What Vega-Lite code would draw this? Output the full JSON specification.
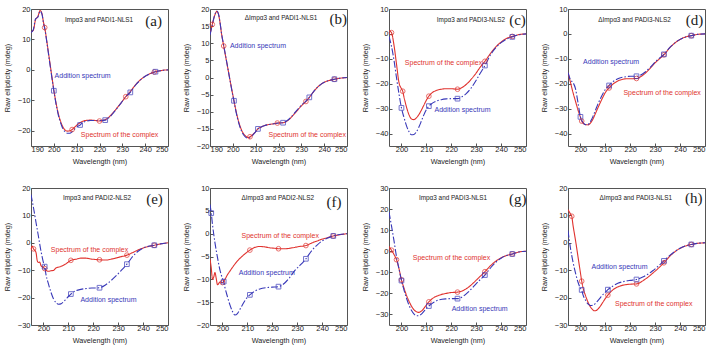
{
"$schema":"https://vega.github.io/schema/vega-lite/v6.json",
"background":"white",
"padding":{"left":2,"top":4,"right":0,"bottom":0},
"columns":4,
"spacing":{"row":42,"column":42},
"bounds":"flush",
"datasets":{
"curves":[
{"p":"a","s":"c","w":190,"v":12.5},{"p":"a","s":"c","w":191,"v":13},{"p":"a","s":"c","w":192,"v":16.5},{"p":"a","s":"c","w":193,"v":17.5},{"p":"a","s":"c","w":194,"v":19.5},{"p":"a","s":"c","w":194.8,"v":18.5},{"p":"a","s":"c","w":195.5,"v":15.5},{"p":"a","s":"c","w":196,"v":13.9},{"p":"a","s":"c","w":197,"v":9},{"p":"a","s":"c","w":198,"v":3.8},{"p":"a","s":"c","w":199,"v":-1.5},{"p":"a","s":"c","w":200,"v":-6.6},{"p":"a","s":"c","w":201,"v":-11},{"p":"a","s":"c","w":202,"v":-14.5},{"p":"a","s":"c","w":203,"v":-17},{"p":"a","s":"c","w":204,"v":-18.8},{"p":"a","s":"c","w":205,"v":-19.8},{"p":"a","s":"c","w":206,"v":-20.1},{"p":"a","s":"c","w":207,"v":-20},{"p":"a","s":"c","w":208,"v":-19.6},{"p":"a","s":"c","w":209,"v":-18.9},{"p":"a","s":"c","w":210,"v":-18.2},{"p":"a","s":"c","w":211,"v":-17.6},{"p":"a","s":"c","w":212,"v":-17.1},{"p":"a","s":"c","w":214,"v":-16.6},{"p":"a","s":"c","w":216,"v":-16.5},{"p":"a","s":"c","w":218,"v":-16.6},{"p":"a","s":"c","w":220,"v":-16.8},{"p":"a","s":"c","w":222,"v":-16.5},{"p":"a","s":"c","w":224,"v":-15.6},{"p":"a","s":"c","w":226,"v":-14},{"p":"a","s":"c","w":228,"v":-12.2},{"p":"a","s":"c","w":230,"v":-10.3},{"p":"a","s":"c","w":231.5,"v":-8.8},{"p":"a","s":"c","w":233.5,"v":-7.1},{"p":"a","s":"c","w":236,"v":-4.7},{"p":"a","s":"c","w":238,"v":-3.2},{"p":"a","s":"c","w":240,"v":-2.1},{"p":"a","s":"c","w":242,"v":-1.3},{"p":"a","s":"c","w":244,"v":-0.7},{"p":"a","s":"c","w":246,"v":-0.35},{"p":"a","s":"c","w":248,"v":-0.1},{"p":"a","s":"c","w":250,"v":0},
{"p":"a","s":"a","w":190,"v":12.3},{"p":"a","s":"a","w":191,"v":13.2},{"p":"a","s":"a","w":192,"v":16.8},{"p":"a","s":"a","w":193,"v":17.3},{"p":"a","s":"a","w":194,"v":19.3},{"p":"a","s":"a","w":194.8,"v":18.3},{"p":"a","s":"a","w":195.5,"v":15.3},{"p":"a","s":"a","w":196,"v":13.6},{"p":"a","s":"a","w":197,"v":8.8},{"p":"a","s":"a","w":198,"v":3.4},{"p":"a","s":"a","w":199,"v":-1.8},{"p":"a","s":"a","w":200,"v":-6.85},{"p":"a","s":"a","w":201,"v":-11.3},{"p":"a","s":"a","w":202,"v":-14.9},{"p":"a","s":"a","w":203,"v":-17.5},{"p":"a","s":"a","w":204,"v":-19.4},{"p":"a","s":"a","w":205,"v":-20.4},{"p":"a","s":"a","w":206,"v":-20.8},{"p":"a","s":"a","w":207,"v":-20.8},{"p":"a","s":"a","w":208,"v":-20.3},{"p":"a","s":"a","w":209,"v":-19.5},{"p":"a","s":"a","w":210,"v":-18.8},{"p":"a","s":"a","w":211,"v":-18.3},{"p":"a","s":"a","w":211.5,"v":-18.1},{"p":"a","s":"a","w":212,"v":-17.7},{"p":"a","s":"a","w":214,"v":-16.9},{"p":"a","s":"a","w":216,"v":-16.6},{"p":"a","s":"a","w":218,"v":-16.6},{"p":"a","s":"a","w":220,"v":-16.6},{"p":"a","s":"a","w":222.5,"v":-16.5},{"p":"a","s":"a","w":224,"v":-15.8},{"p":"a","s":"a","w":226,"v":-14.2},{"p":"a","s":"a","w":228,"v":-12.3},{"p":"a","s":"a","w":230,"v":-10.3},{"p":"a","s":"a","w":231.5,"v":-8.8},{"p":"a","s":"a","w":233.5,"v":-7.4},{"p":"a","s":"a","w":236,"v":-4.8},{"p":"a","s":"a","w":238,"v":-3.3},{"p":"a","s":"a","w":240,"v":-2.1},{"p":"a","s":"a","w":242,"v":-1.3},{"p":"a","s":"a","w":244.5,"v":-0.6},{"p":"a","s":"a","w":246,"v":-0.35},{"p":"a","s":"a","w":248,"v":-0.1},{"p":"a","s":"a","w":250,"v":0},
{"p":"b","s":"c","w":190,"v":12.6},{"p":"b","s":"c","w":191,"v":15.5},{"p":"b","s":"c","w":192,"v":18},{"p":"b","s":"c","w":193,"v":19.3},{"p":"b","s":"c","w":193.7,"v":18.5},{"p":"b","s":"c","w":194.5,"v":15.5},{"p":"b","s":"c","w":195,"v":13},{"p":"b","s":"c","w":196,"v":9.2},{"p":"b","s":"c","w":197,"v":5.6},{"p":"b","s":"c","w":198,"v":2},{"p":"b","s":"c","w":199,"v":-1.6},{"p":"b","s":"c","w":200,"v":-5.1},{"p":"b","s":"c","w":200.5,"v":-6.8},{"p":"b","s":"c","w":201,"v":-8.5},{"p":"b","s":"c","w":202,"v":-11.5},{"p":"b","s":"c","w":203,"v":-13.9},{"p":"b","s":"c","w":204,"v":-15.6},{"p":"b","s":"c","w":205,"v":-16.7},{"p":"b","s":"c","w":206,"v":-17.3},{"p":"b","s":"c","w":207,"v":-17.5},{"p":"b","s":"c","w":207.5,"v":-17.3},{"p":"b","s":"c","w":208,"v":-17.1},{"p":"b","s":"c","w":209,"v":-16.5},{"p":"b","s":"c","w":210,"v":-15.8},{"p":"b","s":"c","w":211,"v":-15},{"p":"b","s":"c","w":212,"v":-14.6},{"p":"b","s":"c","w":214,"v":-14},{"p":"b","s":"c","w":216,"v":-13.7},{"p":"b","s":"c","w":218,"v":-13.5},{"p":"b","s":"c","w":219.5,"v":-13.3},{"p":"b","s":"c","w":222,"v":-13.2},{"p":"b","s":"c","w":224,"v":-12.6},{"p":"b","s":"c","w":226,"v":-11.3},{"p":"b","s":"c","w":228,"v":-9.8},{"p":"b","s":"c","w":230,"v":-8.3},{"p":"b","s":"c","w":232,"v":-7},{"p":"b","s":"c","w":233.5,"v":-5.8},{"p":"b","s":"c","w":236,"v":-3.6},{"p":"b","s":"c","w":238,"v":-2.3},{"p":"b","s":"c","w":240,"v":-1.4},{"p":"b","s":"c","w":242,"v":-0.9},{"p":"b","s":"c","w":244.5,"v":-0.5},{"p":"b","s":"c","w":247,"v":-0.2},{"p":"b","s":"c","w":250,"v":0},
{"p":"b","s":"a","w":190,"v":12.4},{"p":"b","s":"a","w":191,"v":15.3},{"p":"b","s":"a","w":192,"v":18.1},{"p":"b","s":"a","w":193,"v":19.4},{"p":"b","s":"a","w":193.7,"v":18.6},{"p":"b","s":"a","w":194.5,"v":15.6},{"p":"b","s":"a","w":195,"v":13.1},{"p":"b","s":"a","w":196,"v":9.4},{"p":"b","s":"a","w":197,"v":5.7},{"p":"b","s":"a","w":198,"v":2},{"p":"b","s":"a","w":199,"v":-1.7},{"p":"b","s":"a","w":200,"v":-5.3},{"p":"b","s":"a","w":200.5,"v":-6.8},{"p":"b","s":"a","w":201,"v":-8.7},{"p":"b","s":"a","w":202,"v":-11.8},{"p":"b","s":"a","w":203,"v":-14.2},{"p":"b","s":"a","w":204,"v":-15.9},{"p":"b","s":"a","w":205,"v":-17},{"p":"b","s":"a","w":206,"v":-17.6},{"p":"b","s":"a","w":207,"v":-17.7},{"p":"b","s":"a","w":208,"v":-17.3},{"p":"b","s":"a","w":209,"v":-16.6},{"p":"b","s":"a","w":210,"v":-15.8},{"p":"b","s":"a","w":211,"v":-15},{"p":"b","s":"a","w":212,"v":-14.6},{"p":"b","s":"a","w":214,"v":-14},{"p":"b","s":"a","w":216,"v":-13.7},{"p":"b","s":"a","w":218,"v":-13.5},{"p":"b","s":"a","w":220,"v":-13.3},{"p":"b","s":"a","w":222,"v":-13.2},{"p":"b","s":"a","w":224,"v":-12.5},{"p":"b","s":"a","w":226,"v":-11.2},{"p":"b","s":"a","w":228,"v":-9.6},{"p":"b","s":"a","w":230,"v":-8.1},{"p":"b","s":"a","w":232,"v":-6.9},{"p":"b","s":"a","w":233.5,"v":-5.8},{"p":"b","s":"a","w":236,"v":-3.6},{"p":"b","s":"a","w":238,"v":-2.3},{"p":"b","s":"a","w":240,"v":-1.4},{"p":"b","s":"a","w":242,"v":-0.9},{"p":"b","s":"a","w":244.5,"v":-0.5},{"p":"b","s":"a","w":247,"v":-0.2},{"p":"b","s":"a","w":250,"v":0},
{"p":"c","s":"c","w":195,"v":1.3},{"p":"c","s":"c","w":196,"v":0.5},{"p":"c","s":"c","w":197,"v":-4.5},{"p":"c","s":"c","w":198,"v":-12},{"p":"c","s":"c","w":199,"v":-19.5},{"p":"c","s":"c","w":200,"v":-22},{"p":"c","s":"c","w":200.5,"v":-23},{"p":"c","s":"c","w":201,"v":-25.3},{"p":"c","s":"c","w":202,"v":-29.3},{"p":"c","s":"c","w":203,"v":-32.4},{"p":"c","s":"c","w":204,"v":-34.1},{"p":"c","s":"c","w":205,"v":-34.4},{"p":"c","s":"c","w":206,"v":-33.7},{"p":"c","s":"c","w":207,"v":-32.4},{"p":"c","s":"c","w":208,"v":-30.6},{"p":"c","s":"c","w":209,"v":-28.6},{"p":"c","s":"c","w":210,"v":-26.6},{"p":"c","s":"c","w":211,"v":-25},{"p":"c","s":"c","w":212,"v":-23.9},{"p":"c","s":"c","w":214,"v":-22.7},{"p":"c","s":"c","w":216,"v":-22.2},{"p":"c","s":"c","w":218,"v":-22},{"p":"c","s":"c","w":220,"v":-22},{"p":"c","s":"c","w":222.5,"v":-22.2},{"p":"c","s":"c","w":224,"v":-21.7},{"p":"c","s":"c","w":226,"v":-20.3},{"p":"c","s":"c","w":228,"v":-18.2},{"p":"c","s":"c","w":230,"v":-15.7},{"p":"c","s":"c","w":231.5,"v":-13.5},{"p":"c","s":"c","w":233.5,"v":-11},{"p":"c","s":"c","w":236,"v":-7.5},{"p":"c","s":"c","w":238,"v":-5.1},{"p":"c","s":"c","w":240,"v":-3.3},{"p":"c","s":"c","w":242,"v":-1.9},{"p":"c","s":"c","w":244.5,"v":-1},{"p":"c","s":"c","w":247,"v":-0.3},{"p":"c","s":"c","w":250,"v":0},
{"p":"c","s":"a","w":195,"v":-1},{"p":"c","s":"a","w":196,"v":-5},{"p":"c","s":"a","w":197,"v":-10.5},{"p":"c","s":"a","w":198,"v":-17.5},{"p":"c","s":"a","w":199,"v":-24},{"p":"c","s":"a","w":200,"v":-29.7},{"p":"c","s":"a","w":201,"v":-33.5},{"p":"c","s":"a","w":202,"v":-36.8},{"p":"c","s":"a","w":203,"v":-39.2},{"p":"c","s":"a","w":204,"v":-40.5},{"p":"c","s":"a","w":205,"v":-40.4},{"p":"c","s":"a","w":206,"v":-39.3},{"p":"c","s":"a","w":207,"v":-37.4},{"p":"c","s":"a","w":208,"v":-35},{"p":"c","s":"a","w":209,"v":-32.5},{"p":"c","s":"a","w":210,"v":-30.4},{"p":"c","s":"a","w":211,"v":-29},{"p":"c","s":"a","w":212,"v":-28.1},{"p":"c","s":"a","w":214,"v":-27},{"p":"c","s":"a","w":216,"v":-26.4},{"p":"c","s":"a","w":218,"v":-26.1},{"p":"c","s":"a","w":220,"v":-26},{"p":"c","s":"a","w":222.5,"v":-26},{"p":"c","s":"a","w":224,"v":-25.4},{"p":"c","s":"a","w":226,"v":-24},{"p":"c","s":"a","w":228,"v":-21.7},{"p":"c","s":"a","w":230,"v":-18.6},{"p":"c","s":"a","w":231.5,"v":-16},{"p":"c","s":"a","w":233.5,"v":-12.7},{"p":"c","s":"a","w":236,"v":-8},{"p":"c","s":"a","w":238,"v":-5.4},{"p":"c","s":"a","w":240,"v":-3.5},{"p":"c","s":"a","w":242,"v":-2.2},{"p":"c","s":"a","w":244.5,"v":-1.2},{"p":"c","s":"a","w":247,"v":-0.4},{"p":"c","s":"a","w":250,"v":0},
{"p":"d","s":"c","w":195,"v":-15.5},{"p":"d","s":"c","w":196,"v":-19.5},{"p":"d","s":"c","w":197,"v":-23.5},{"p":"d","s":"c","w":198,"v":-27},{"p":"d","s":"c","w":199,"v":-30.5},{"p":"d","s":"c","w":200,"v":-33.5},{"p":"d","s":"c","w":200.5,"v":-35},{"p":"d","s":"c","w":201,"v":-35.8},{"p":"d","s":"c","w":202,"v":-36.4},{"p":"d","s":"c","w":203,"v":-36.5},{"p":"d","s":"c","w":204,"v":-35.8},{"p":"d","s":"c","w":205,"v":-34.2},{"p":"d","s":"c","w":206,"v":-32},{"p":"d","s":"c","w":207,"v":-29.7},{"p":"d","s":"c","w":208,"v":-27.5},{"p":"d","s":"c","w":209,"v":-25.4},{"p":"d","s":"c","w":210,"v":-23.5},{"p":"d","s":"c","w":211.5,"v":-21.7},{"p":"d","s":"c","w":213,"v":-20.2},{"p":"d","s":"c","w":215,"v":-18.9},{"p":"d","s":"c","w":217,"v":-18.2},{"p":"d","s":"c","w":219,"v":-18},{"p":"d","s":"c","w":220,"v":-18},{"p":"d","s":"c","w":222.5,"v":-17.9},{"p":"d","s":"c","w":224,"v":-17.3},{"p":"d","s":"c","w":226,"v":-15.8},{"p":"d","s":"c","w":228,"v":-13.8},{"p":"d","s":"c","w":230,"v":-11.6},{"p":"d","s":"c","w":231.5,"v":-10.2},{"p":"d","s":"c","w":233.5,"v":-8.4},{"p":"d","s":"c","w":236,"v":-5.4},{"p":"d","s":"c","w":238,"v":-3.6},{"p":"d","s":"c","w":240,"v":-2.2},{"p":"d","s":"c","w":242,"v":-1.3},{"p":"d","s":"c","w":244.5,"v":-0.7},{"p":"d","s":"c","w":247,"v":-0.2},{"p":"d","s":"c","w":250,"v":0},
{"p":"d","s":"a","w":195,"v":-15.5},{"p":"d","s":"a","w":196,"v":-18.5},{"p":"d","s":"a","w":197,"v":-19.5},{"p":"d","s":"a","w":198,"v":-22},{"p":"d","s":"a","w":199,"v":-27.5},{"p":"d","s":"a","w":200,"v":-33.3},{"p":"d","s":"a","w":201,"v":-35.5},{"p":"d","s":"a","w":202,"v":-36.4},{"p":"d","s":"a","w":203,"v":-36.4},{"p":"d","s":"a","w":204,"v":-35.2},{"p":"d","s":"a","w":205,"v":-33.2},{"p":"d","s":"a","w":206,"v":-30.7},{"p":"d","s":"a","w":207,"v":-28.2},{"p":"d","s":"a","w":208,"v":-26},{"p":"d","s":"a","w":209,"v":-24},{"p":"d","s":"a","w":210,"v":-22.3},{"p":"d","s":"a","w":211.5,"v":-20.7},{"p":"d","s":"a","w":213,"v":-19.2},{"p":"d","s":"a","w":215,"v":-18},{"p":"d","s":"a","w":217,"v":-17.4},{"p":"d","s":"a","w":219,"v":-17.1},{"p":"d","s":"a","w":220,"v":-17},{"p":"d","s":"a","w":222.5,"v":-17},{"p":"d","s":"a","w":224,"v":-16.6},{"p":"d","s":"a","w":226,"v":-15.3},{"p":"d","s":"a","w":228,"v":-13.4},{"p":"d","s":"a","w":230,"v":-11.3},{"p":"d","s":"a","w":231.5,"v":-9.9},{"p":"d","s":"a","w":233.5,"v":-8.2},{"p":"d","s":"a","w":236,"v":-5.3},{"p":"d","s":"a","w":238,"v":-3.5},{"p":"d","s":"a","w":240,"v":-2.2},{"p":"d","s":"a","w":242,"v":-1.3},{"p":"d","s":"a","w":244.5,"v":-0.7},{"p":"d","s":"a","w":247,"v":-0.2},{"p":"d","s":"a","w":250,"v":0},
{"p":"e","s":"c","w":195,"v":-2.4},{"p":"e","s":"c","w":195.5,"v":-1.2},{"p":"e","s":"c","w":196,"v":-2.2},{"p":"e","s":"c","w":197,"v":-3.5},{"p":"e","s":"c","w":197.5,"v":-6.5},{"p":"e","s":"c","w":198,"v":-7.2},{"p":"e","s":"c","w":198.5,"v":-7},{"p":"e","s":"c","w":199,"v":-8.3},{"p":"e","s":"c","w":200,"v":-9},{"p":"e","s":"c","w":200.5,"v":-9.4},{"p":"e","s":"c","w":201,"v":-10},{"p":"e","s":"c","w":202,"v":-10.4},{"p":"e","s":"c","w":203,"v":-10.2},{"p":"e","s":"c","w":204,"v":-10.1},{"p":"e","s":"c","w":205,"v":-9.2},{"p":"e","s":"c","w":206,"v":-8.9},{"p":"e","s":"c","w":207,"v":-8.6},{"p":"e","s":"c","w":209,"v":-7.7},{"p":"e","s":"c","w":211,"v":-6.4},{"p":"e","s":"c","w":213,"v":-6},{"p":"e","s":"c","w":215,"v":-5.6},{"p":"e","s":"c","w":217,"v":-5.6},{"p":"e","s":"c","w":219,"v":-5.9},{"p":"e","s":"c","w":221,"v":-6.1},{"p":"e","s":"c","w":222.5,"v":-6.2},{"p":"e","s":"c","w":225,"v":-6.3},{"p":"e","s":"c","w":228,"v":-5.8},{"p":"e","s":"c","w":231,"v":-5.1},{"p":"e","s":"c","w":233.5,"v":-4.5},{"p":"e","s":"c","w":236,"v":-3.5},{"p":"e","s":"c","w":238,"v":-2.6},{"p":"e","s":"c","w":240,"v":-1.9},{"p":"e","s":"c","w":242,"v":-1.4},{"p":"e","s":"c","w":244.5,"v":-0.9},{"p":"e","s":"c","w":247,"v":-0.4},{"p":"e","s":"c","w":250,"v":0},
{"p":"e","s":"a","w":195,"v":17.6},{"p":"e","s":"a","w":196,"v":12.8},{"p":"e","s":"a","w":197,"v":7.5},{"p":"e","s":"a","w":198,"v":2.3},{"p":"e","s":"a","w":199,"v":-3},{"p":"e","s":"a","w":200,"v":-7.2},{"p":"e","s":"a","w":200.5,"v":-8.7},{"p":"e","s":"a","w":201,"v":-11.5},{"p":"e","s":"a","w":202,"v":-15},{"p":"e","s":"a","w":203,"v":-18},{"p":"e","s":"a","w":204,"v":-20.4},{"p":"e","s":"a","w":205,"v":-21.8},{"p":"e","s":"a","w":206,"v":-22.4},{"p":"e","s":"a","w":207,"v":-22.3},{"p":"e","s":"a","w":208,"v":-21.6},{"p":"e","s":"a","w":209,"v":-20.6},{"p":"e","s":"a","w":210,"v":-19.6},{"p":"e","s":"a","w":211,"v":-18.7},{"p":"e","s":"a","w":213,"v":-17.5},{"p":"e","s":"a","w":215,"v":-17},{"p":"e","s":"a","w":218,"v":-16.6},{"p":"e","s":"a","w":220,"v":-16.5},{"p":"e","s":"a","w":222.5,"v":-16.4},{"p":"e","s":"a","w":225,"v":-15.3},{"p":"e","s":"a","w":227,"v":-13.9},{"p":"e","s":"a","w":229,"v":-12.2},{"p":"e","s":"a","w":231,"v":-10.3},{"p":"e","s":"a","w":233.5,"v":-7.8},{"p":"e","s":"a","w":236,"v":-4.8},{"p":"e","s":"a","w":238,"v":-3.1},{"p":"e","s":"a","w":240,"v":-1.9},{"p":"e","s":"a","w":242,"v":-1.3},{"p":"e","s":"a","w":244.5,"v":-0.9},{"p":"e","s":"a","w":247,"v":-0.4},{"p":"e","s":"a","w":250,"v":0},
{"p":"f","s":"c","w":195,"v":-5.5},{"p":"f","s":"c","w":195.5,"v":-7.5},{"p":"f","s":"c","w":196,"v":-10},{"p":"f","s":"c","w":196.5,"v":-9.5},{"p":"f","s":"c","w":197,"v":-8.5},{"p":"f","s":"c","w":197.5,"v":-9.8},{"p":"f","s":"c","w":198,"v":-11.2},{"p":"f","s":"c","w":199,"v":-10.6},{"p":"f","s":"c","w":200,"v":-10.7},{"p":"f","s":"c","w":201,"v":-10},{"p":"f","s":"c","w":202,"v":-9},{"p":"f","s":"c","w":203,"v":-8.2},{"p":"f","s":"c","w":204,"v":-7.4},{"p":"f","s":"c","w":206,"v":-6},{"p":"f","s":"c","w":208,"v":-4.9},{"p":"f","s":"c","w":210,"v":-4},{"p":"f","s":"c","w":211,"v":-3.6},{"p":"f","s":"c","w":213,"v":-3},{"p":"f","s":"c","w":215,"v":-2.8},{"p":"f","s":"c","w":217,"v":-2.9},{"p":"f","s":"c","w":219,"v":-3.1},{"p":"f","s":"c","w":221,"v":-3.2},{"p":"f","s":"c","w":222.5,"v":-3.3},{"p":"f","s":"c","w":225,"v":-3.3},{"p":"f","s":"c","w":228,"v":-3.1},{"p":"f","s":"c","w":231,"v":-2.8},{"p":"f","s":"c","w":233.5,"v":-2.6},{"p":"f","s":"c","w":236,"v":-2},{"p":"f","s":"c","w":238,"v":-1.6},{"p":"f","s":"c","w":240,"v":-1.2},{"p":"f","s":"c","w":242,"v":-0.9},{"p":"f","s":"c","w":244.5,"v":-0.5},{"p":"f","s":"c","w":247,"v":-0.25},{"p":"f","s":"c","w":250,"v":0},
{"p":"f","s":"a","w":195,"v":6.4},{"p":"f","s":"a","w":195.5,"v":4.5},{"p":"f","s":"a","w":196,"v":2},{"p":"f","s":"a","w":197,"v":-2},{"p":"f","s":"a","w":198,"v":-5.2},{"p":"f","s":"a","w":199,"v":-8},{"p":"f","s":"a","w":200,"v":-9.8},{"p":"f","s":"a","w":200.5,"v":-10.5},{"p":"f","s":"a","w":201,"v":-11.8},{"p":"f","s":"a","w":202,"v":-13.8},{"p":"f","s":"a","w":203,"v":-15.6},{"p":"f","s":"a","w":204,"v":-17},{"p":"f","s":"a","w":205,"v":-17.8},{"p":"f","s":"a","w":206,"v":-17.5},{"p":"f","s":"a","w":207,"v":-16.6},{"p":"f","s":"a","w":208,"v":-15.6},{"p":"f","s":"a","w":209,"v":-14.7},{"p":"f","s":"a","w":210,"v":-13.9},{"p":"f","s":"a","w":211,"v":-13.4},{"p":"f","s":"a","w":213,"v":-12.6},{"p":"f","s":"a","w":215,"v":-12.1},{"p":"f","s":"a","w":218,"v":-11.8},{"p":"f","s":"a","w":220,"v":-11.7},{"p":"f","s":"a","w":222.5,"v":-11.6},{"p":"f","s":"a","w":225,"v":-10.8},{"p":"f","s":"a","w":227,"v":-9.6},{"p":"f","s":"a","w":229,"v":-8.1},{"p":"f","s":"a","w":231,"v":-7},{"p":"f","s":"a","w":233.5,"v":-5.5},{"p":"f","s":"a","w":236,"v":-3.6},{"p":"f","s":"a","w":238,"v":-2.5},{"p":"f","s":"a","w":240,"v":-1.6},{"p":"f","s":"a","w":242,"v":-1},{"p":"f","s":"a","w":244.5,"v":-0.5},{"p":"f","s":"a","w":247,"v":-0.2},{"p":"f","s":"a","w":250,"v":0},
{"p":"g","s":"c","w":195,"v":2.3},{"p":"g","s":"c","w":196,"v":0.5},{"p":"g","s":"c","w":197,"v":-1.5},{"p":"g","s":"c","w":198,"v":-4},{"p":"g","s":"c","w":199,"v":-8.2},{"p":"g","s":"c","w":200,"v":-13.6},{"p":"g","s":"c","w":201,"v":-17.4},{"p":"g","s":"c","w":202,"v":-20.8},{"p":"g","s":"c","w":203,"v":-23.6},{"p":"g","s":"c","w":204,"v":-26},{"p":"g","s":"c","w":205,"v":-27.7},{"p":"g","s":"c","w":206,"v":-28.7},{"p":"g","s":"c","w":207,"v":-29},{"p":"g","s":"c","w":208,"v":-28.4},{"p":"g","s":"c","w":209,"v":-27.1},{"p":"g","s":"c","w":210,"v":-25.5},{"p":"g","s":"c","w":211,"v":-24},{"p":"g","s":"c","w":213,"v":-22},{"p":"g","s":"c","w":215,"v":-20.9},{"p":"g","s":"c","w":218,"v":-20},{"p":"g","s":"c","w":220,"v":-19.6},{"p":"g","s":"c","w":222.5,"v":-19.4},{"p":"g","s":"c","w":225,"v":-18.5},{"p":"g","s":"c","w":227,"v":-17},{"p":"g","s":"c","w":229,"v":-14.9},{"p":"g","s":"c","w":231,"v":-12.6},{"p":"g","s":"c","w":233.5,"v":-9.7},{"p":"g","s":"c","w":236,"v":-6.6},{"p":"g","s":"c","w":238,"v":-4.6},{"p":"g","s":"c","w":240,"v":-3.1},{"p":"g","s":"c","w":242,"v":-2.1},{"p":"g","s":"c","w":244.5,"v":-1.3},{"p":"g","s":"c","w":247,"v":-0.4},{"p":"g","s":"c","w":250,"v":0},
{"p":"g","s":"a","w":195,"v":18.6},{"p":"g","s":"a","w":196,"v":12},{"p":"g","s":"a","w":197,"v":5},{"p":"g","s":"a","w":198,"v":-2.5},{"p":"g","s":"a","w":199,"v":-8.3},{"p":"g","s":"a","w":200,"v":-13.9},{"p":"g","s":"a","w":201,"v":-18.3},{"p":"g","s":"a","w":202,"v":-22.2},{"p":"g","s":"a","w":203,"v":-25.5},{"p":"g","s":"a","w":204,"v":-28},{"p":"g","s":"a","w":205,"v":-29.7},{"p":"g","s":"a","w":206,"v":-30.6},{"p":"g","s":"a","w":207,"v":-30.6},{"p":"g","s":"a","w":208,"v":-29.8},{"p":"g","s":"a","w":209,"v":-28.5},{"p":"g","s":"a","w":210,"v":-27.1},{"p":"g","s":"a","w":211,"v":-26},{"p":"g","s":"a","w":213,"v":-24.2},{"p":"g","s":"a","w":215,"v":-23.1},{"p":"g","s":"a","w":218,"v":-22.6},{"p":"g","s":"a","w":220,"v":-22.5},{"p":"g","s":"a","w":222.5,"v":-22.5},{"p":"g","s":"a","w":225,"v":-21.2},{"p":"g","s":"a","w":227,"v":-19.2},{"p":"g","s":"a","w":229,"v":-16.7},{"p":"g","s":"a","w":231,"v":-14.2},{"p":"g","s":"a","w":233.5,"v":-11.3},{"p":"g","s":"a","w":236,"v":-7.6},{"p":"g","s":"a","w":238,"v":-5.1},{"p":"g","s":"a","w":240,"v":-3.3},{"p":"g","s":"a","w":242,"v":-2.1},{"p":"g","s":"a","w":244.5,"v":-1.3},{"p":"g","s":"a","w":247,"v":-0.4},{"p":"g","s":"a","w":250,"v":0},
{"p":"h","s":"c","w":195,"v":12.1},{"p":"h","s":"c","w":196,"v":10.5},{"p":"h","s":"c","w":196.5,"v":9.7},{"p":"h","s":"c","w":197,"v":6.5},{"p":"h","s":"c","w":198,"v":1},{"p":"h","s":"c","w":199,"v":-5},{"p":"h","s":"c","w":200,"v":-11},{"p":"h","s":"c","w":200.5,"v":-14},{"p":"h","s":"c","w":201,"v":-16.3},{"p":"h","s":"c","w":202,"v":-19.2},{"p":"h","s":"c","w":203,"v":-21.6},{"p":"h","s":"c","w":204,"v":-23.4},{"p":"h","s":"c","w":205,"v":-24.5},{"p":"h","s":"c","w":205.5,"v":-24.8},{"p":"h","s":"c","w":206,"v":-24.8},{"p":"h","s":"c","w":207,"v":-24.2},{"p":"h","s":"c","w":208,"v":-23.1},{"p":"h","s":"c","w":209,"v":-21.7},{"p":"h","s":"c","w":210,"v":-20.3},{"p":"h","s":"c","w":211,"v":-19.1},{"p":"h","s":"c","w":213,"v":-17.2},{"p":"h","s":"c","w":215,"v":-16.1},{"p":"h","s":"c","w":218,"v":-15.3},{"p":"h","s":"c","w":220,"v":-15.1},{"p":"h","s":"c","w":222.5,"v":-15},{"p":"h","s":"c","w":225,"v":-13.9},{"p":"h","s":"c","w":227,"v":-12.6},{"p":"h","s":"c","w":229,"v":-11.1},{"p":"h","s":"c","w":231,"v":-9.5},{"p":"h","s":"c","w":233.5,"v":-7.3},{"p":"h","s":"c","w":236,"v":-4.8},{"p":"h","s":"c","w":238,"v":-3.2},{"p":"h","s":"c","w":240,"v":-2},{"p":"h","s":"c","w":242,"v":-1.2},{"p":"h","s":"c","w":244.5,"v":-0.6},{"p":"h","s":"c","w":247,"v":-0.2},{"p":"h","s":"c","w":250,"v":0},
{"p":"h","s":"a","w":195,"v":4.5},{"p":"h","s":"a","w":196,"v":-2},{"p":"h","s":"a","w":197,"v":-7},{"p":"h","s":"a","w":198,"v":-11},{"p":"h","s":"a","w":199,"v":-14.3},{"p":"h","s":"a","w":200,"v":-16.6},{"p":"h","s":"a","w":200.5,"v":-17.2},{"p":"h","s":"a","w":201,"v":-18.9},{"p":"h","s":"a","w":202,"v":-20.9},{"p":"h","s":"a","w":203,"v":-22.3},{"p":"h","s":"a","w":204,"v":-22.9},{"p":"h","s":"a","w":205,"v":-22.8},{"p":"h","s":"a","w":206,"v":-22.1},{"p":"h","s":"a","w":207,"v":-21.1},{"p":"h","s":"a","w":208,"v":-20},{"p":"h","s":"a","w":209,"v":-18.9},{"p":"h","s":"a","w":210,"v":-18},{"p":"h","s":"a","w":211,"v":-17.1},{"p":"h","s":"a","w":213,"v":-15.8},{"p":"h","s":"a","w":215,"v":-14.8},{"p":"h","s":"a","w":218,"v":-14},{"p":"h","s":"a","w":220,"v":-13.7},{"p":"h","s":"a","w":222.5,"v":-13.4},{"p":"h","s":"a","w":225,"v":-12.5},{"p":"h","s":"a","w":227,"v":-11.5},{"p":"h","s":"a","w":229,"v":-10.2},{"p":"h","s":"a","w":231,"v":-8.7},{"p":"h","s":"a","w":233.5,"v":-6.6},{"p":"h","s":"a","w":236,"v":-4.5},{"p":"h","s":"a","w":238,"v":-3.1},{"p":"h","s":"a","w":240,"v":-2},{"p":"h","s":"a","w":242,"v":-1.2},{"p":"h","s":"a","w":244.5,"v":-0.6},{"p":"h","s":"a","w":247,"v":-0.2},{"p":"h","s":"a","w":250,"v":0}
],
"marks":[
{"p":"a","s":"c","w":196,"v":13.9},{"p":"a","s":"c","w":208,"v":-19.6},{"p":"a","s":"c","w":220,"v":-16.8},{"p":"a","s":"c","w":231.5,"v":-8.8},{"p":"a","s":"c","w":244,"v":-0.7},
{"p":"a","s":"a","w":200,"v":-6.85},{"p":"a","s":"a","w":211.5,"v":-18.1},{"p":"a","s":"a","w":222.5,"v":-16.5},{"p":"a","s":"a","w":233.5,"v":-7.4},{"p":"a","s":"a","w":244.5,"v":-0.6},
{"p":"b","s":"c","w":191,"v":15.5},{"p":"b","s":"c","w":196,"v":9.2},{"p":"b","s":"c","w":207.5,"v":-17.3},{"p":"b","s":"c","w":219.5,"v":-13.3},{"p":"b","s":"c","w":232,"v":-7},{"p":"b","s":"c","w":244.5,"v":-0.5},
{"p":"b","s":"a","w":200.5,"v":-6.8},{"p":"b","s":"a","w":211,"v":-15},{"p":"b","s":"a","w":222,"v":-13.2},{"p":"b","s":"a","w":233.5,"v":-5.8},{"p":"b","s":"a","w":244.5,"v":-0.5},
{"p":"c","s":"c","w":196,"v":0.5},{"p":"c","s":"c","w":200.5,"v":-23},{"p":"c","s":"c","w":211,"v":-25},{"p":"c","s":"c","w":222.5,"v":-22.2},{"p":"c","s":"c","w":233.5,"v":-11},{"p":"c","s":"c","w":244.5,"v":-1},
{"p":"c","s":"a","w":200,"v":-29.7},{"p":"c","s":"a","w":211,"v":-29},{"p":"c","s":"a","w":222.5,"v":-26},{"p":"c","s":"a","w":233.5,"v":-12.7},{"p":"c","s":"a","w":244.5,"v":-1.2},
{"p":"d","s":"c","w":200.5,"v":-35},{"p":"d","s":"c","w":211.5,"v":-21.7},{"p":"d","s":"c","w":222.5,"v":-17.9},{"p":"d","s":"c","w":233.5,"v":-8.4},{"p":"d","s":"c","w":244.5,"v":-0.7},
{"p":"d","s":"a","w":200,"v":-33.3},{"p":"d","s":"a","w":211.5,"v":-20.7},{"p":"d","s":"a","w":222.5,"v":-17},{"p":"d","s":"a","w":233.5,"v":-8.2},{"p":"d","s":"a","w":244.5,"v":-0.7},
{"p":"e","s":"c","w":196,"v":-2.2},{"p":"e","s":"c","w":200.5,"v":-9.4},{"p":"e","s":"c","w":211,"v":-6.4},{"p":"e","s":"c","w":222.5,"v":-6.2},{"p":"e","s":"c","w":233.5,"v":-4.5},{"p":"e","s":"c","w":244.5,"v":-0.9},
{"p":"e","s":"a","w":200.5,"v":-8.7},{"p":"e","s":"a","w":211,"v":-18.7},{"p":"e","s":"a","w":222.5,"v":-16.4},{"p":"e","s":"a","w":233.5,"v":-7.8},{"p":"e","s":"a","w":244.5,"v":-0.9},
{"p":"f","s":"c","w":200,"v":-10.7},{"p":"f","s":"c","w":211,"v":-3.6},{"p":"f","s":"c","w":222.5,"v":-3.3},{"p":"f","s":"c","w":233.5,"v":-2.6},{"p":"f","s":"c","w":244.5,"v":-0.5},
{"p":"f","s":"a","w":195.5,"v":4.5},{"p":"f","s":"a","w":200.5,"v":-10.5},{"p":"f","s":"a","w":211,"v":-13.4},{"p":"f","s":"a","w":222.5,"v":-11.6},{"p":"f","s":"a","w":233.5,"v":-5.5},{"p":"f","s":"a","w":244.5,"v":-0.5},
{"p":"g","s":"c","w":196,"v":0.5},{"p":"g","s":"c","w":198,"v":-4},{"p":"g","s":"c","w":200,"v":-13.6},{"p":"g","s":"c","w":211,"v":-24},{"p":"g","s":"c","w":222.5,"v":-19.4},{"p":"g","s":"c","w":233.5,"v":-9.7},{"p":"g","s":"c","w":244.5,"v":-1.3},
{"p":"g","s":"a","w":200,"v":-13.9},{"p":"g","s":"a","w":211,"v":-26},{"p":"g","s":"a","w":222.5,"v":-22.5},{"p":"g","s":"a","w":233.5,"v":-11.3},{"p":"g","s":"a","w":244.5,"v":-1.3},
{"p":"h","s":"c","w":196.5,"v":9.7},{"p":"h","s":"c","w":200.5,"v":-14},{"p":"h","s":"c","w":211,"v":-19.1},{"p":"h","s":"c","w":222.5,"v":-15},{"p":"h","s":"c","w":233.5,"v":-7.3},{"p":"h","s":"c","w":244.5,"v":-0.6},
{"p":"h","s":"a","w":200.5,"v":-17.2},{"p":"h","s":"a","w":211,"v":-17.1},{"p":"h","s":"a","w":222.5,"v":-13.4},{"p":"h","s":"a","w":233.5,"v":-6.6},{"p":"h","s":"a","w":244.5,"v":-0.6}
],
"texts":[
{"p":"a","k":"title","s":"T","t":"Impα3 and PADI1-NLS1","w":219.8,"v":16.4},{"p":"a","k":"tag","s":"T","t":"(a)","w":243.7,"v":16.1},{"p":"a","k":"note","s":"a","t":"Addition spectrum","w":212.6,"v":-2},{"p":"a","k":"note","s":"c","t":"Spectrum of the complex","w":228.8,"v":-21.4},
{"p":"b","k":"title","s":"T","t":"ΔImpα3 and PADI1-NLS1","w":221.1,"v":17.4},{"p":"b","k":"tag","s":"T","t":"(b)","w":246.2,"v":17.1},{"p":"b","k":"note","s":"a","t":"Addition spectrum","w":211,"v":9.3},{"p":"b","k":"note","s":"c","t":"Spectrum of the complex","w":232.6,"v":-16.8},
{"p":"c","k":"title","s":"T","t":"Impα3 and PADI3-NLS2","w":227.9,"v":5.5},{"p":"c","k":"tag","s":"T","t":"(c)","w":246.6,"v":5.5},{"p":"c","k":"note","s":"c","t":"Spectrum of the complex","w":216.9,"v":-11.8},{"p":"c","k":"note","s":"a","t":"Addition spectrum","w":224.5,"v":-30.6},
{"p":"d","k":"title","s":"T","t":"ΔImpα3 and PADI3-NLS2","w":221.7,"v":5.5},{"p":"d","k":"tag","s":"T","t":"(d)","w":245.8,"v":5.5},{"p":"d","k":"note","s":"a","t":"Addition spectrum","w":212.3,"v":-11.4},{"p":"d","k":"note","s":"c","t":"Spectrum of the complex","w":232.8,"v":-23.8},
{"p":"e","k":"title","s":"T","t":"Impα3 and PADI2-NLS2","w":221.5,"v":16.4},{"p":"e","k":"tag","s":"T","t":"(e)","w":244.6,"v":16},{"p":"e","k":"note","s":"c","t":"Spectrum of the complex","w":218.5,"v":-2.5},{"p":"e","k":"note","s":"a","t":"Addition spectrum","w":226.1,"v":-20.7},
{"p":"f","k":"title","s":"T","t":"ΔImpα3 and PADI2-NLS2","w":222.2,"v":7.8},{"p":"f","k":"tag","s":"T","t":"(f)","w":244.8,"v":6.9},{"p":"f","k":"note","s":"c","t":"Spectrum of the complex","w":223.2,"v":-0.5},{"p":"f","k":"note","s":"a","t":"Addition spectrum","w":217.8,"v":-8.7},
{"p":"g","k":"title","s":"T","t":"Impα3 and PADI3-NLS1","w":220.7,"v":25.3},{"p":"g","k":"tag","s":"T","t":"(g)","w":246.7,"v":24.8},{"p":"g","k":"note","s":"c","t":"Spectrum of the complex","w":220.1,"v":-3},{"p":"g","k":"note","s":"a","t":"Addition spectrum","w":231.4,"v":-27.6},
{"p":"h","k":"title","s":"T","t":"ΔImpα3 and PADI3-NLS1","w":222.2,"v":16.2},{"p":"h","k":"tag","s":"T","t":"(h)","w":245.5,"v":16.2},{"p":"h","k":"note","s":"a","t":"Addition spectrum","w":215.7,"v":-8.9},{"p":"h","k":"note","s":"c","t":"Spectrum of the complex","w":229.4,"v":-22.4}
]
},
"concat":[
{"width":137,"height":137,
 "encoding":{"x":{"field":"w","type":"quantitative","scale":{"domain":[190,250],"nice":false,"zero":false},"axis":{"values":[190,200,210,220,230,240,250],"title":"Wavelength (nm)"}},
  "y":{"field":"v","type":"quantitative","scale":{"domain":[-25,20],"nice":false,"zero":false},"axis":{"values":[-20,-10,0,10,20],"title":"Raw ellipticity (mdeg)"}},
  "color":{"field":"s","type":"nominal","scale":{"domain":["c","a","T"],"range":["#e0332f","#3838b8","#1a1a1a"]},"legend":null}},
 "layer":[
  {"data":{"name":"curves"},"transform":[{"filter":"datum.p=='a'"}],"mark":{"type":"line","interpolate":"monotone","strokeWidth":1.1,"clip":true},"encoding":{"strokeDash":{"field":"s","type":"nominal","scale":{"domain":["c","a"],"range":[[1,0],[7,2,1.5,2]]},"legend":null}}},
  {"data":{"name":"marks"},"transform":[{"filter":"datum.p=='a'"}],"mark":{"type":"point","filled":false,"size":22,"strokeWidth":1},"encoding":{"shape":{"field":"s","type":"nominal","scale":{"domain":["c","a"],"range":["circle","square"]},"legend":null}}},
  {"data":{"name":"texts"},"transform":[{"filter":"datum.p=='a' && datum.k!='tag'"}],"mark":{"type":"text","font":"Liberation Sans"},"encoding":{"text":{"field":"t"},"size":{"field":"k","type":"nominal","scale":{"domain":["note","title"],"range":[7,6.4]},"legend":null}}},
  {"data":{"name":"texts"},"transform":[{"filter":"datum.p=='a' && datum.k=='tag'"}],"mark":{"type":"text","font":"Liberation Serif","fontSize":15},"encoding":{"text":{"field":"t"}}}
 ]},
{"width":137,"height":137,
 "encoding":{"x":{"field":"w","type":"quantitative","scale":{"domain":[190,250],"nice":false,"zero":false},"axis":{"values":[190,200,210,220,230,240,250],"title":"Wavelength (nm)"}},
  "y":{"field":"v","type":"quantitative","scale":{"domain":[-20,20],"nice":false,"zero":false},"axis":{"values":[-20,-15,-10,-5,0,5,10,15,20],"title":"Raw ellipticity (mdeg)"}},
  "color":{"field":"s","type":"nominal","scale":{"domain":["c","a","T"],"range":["#e0332f","#3838b8","#1a1a1a"]},"legend":null}},
 "layer":[
  {"data":{"name":"curves"},"transform":[{"filter":"datum.p=='b'"}],"mark":{"type":"line","interpolate":"monotone","strokeWidth":1.1,"clip":true},"encoding":{"strokeDash":{"field":"s","type":"nominal","scale":{"domain":["c","a"],"range":[[1,0],[7,2,1.5,2]]},"legend":null}}},
  {"data":{"name":"marks"},"transform":[{"filter":"datum.p=='b'"}],"mark":{"type":"point","filled":false,"size":22,"strokeWidth":1},"encoding":{"shape":{"field":"s","type":"nominal","scale":{"domain":["c","a"],"range":["circle","square"]},"legend":null}}},
  {"data":{"name":"texts"},"transform":[{"filter":"datum.p=='b' && datum.k!='tag'"}],"mark":{"type":"text","font":"Liberation Sans"},"encoding":{"text":{"field":"t"},"size":{"field":"k","type":"nominal","scale":{"domain":["note","title"],"range":[7,6.4]},"legend":null}}},
  {"data":{"name":"texts"},"transform":[{"filter":"datum.p=='b' && datum.k=='tag'"}],"mark":{"type":"text","font":"Liberation Serif","fontSize":15},"encoding":{"text":{"field":"t"}}}
 ]},
{"width":137,"height":137,
 "encoding":{"x":{"field":"w","type":"quantitative","scale":{"domain":[195,250],"nice":false,"zero":false},"axis":{"values":[200,210,220,230,240,250],"title":"Wavelength (nm)"}},
  "y":{"field":"v","type":"quantitative","scale":{"domain":[-45,10],"nice":false,"zero":false},"axis":{"values":[-40,-30,-20,-10,0,10],"title":"Raw ellipticity (mdeg)"}},
  "color":{"field":"s","type":"nominal","scale":{"domain":["c","a","T"],"range":["#e0332f","#3838b8","#1a1a1a"]},"legend":null}},
 "layer":[
  {"data":{"name":"curves"},"transform":[{"filter":"datum.p=='c'"}],"mark":{"type":"line","interpolate":"monotone","strokeWidth":1.1,"clip":true},"encoding":{"strokeDash":{"field":"s","type":"nominal","scale":{"domain":["c","a"],"range":[[1,0],[7,2,1.5,2]]},"legend":null}}},
  {"data":{"name":"marks"},"transform":[{"filter":"datum.p=='c'"}],"mark":{"type":"point","filled":false,"size":22,"strokeWidth":1},"encoding":{"shape":{"field":"s","type":"nominal","scale":{"domain":["c","a"],"range":["circle","square"]},"legend":null}}},
  {"data":{"name":"texts"},"transform":[{"filter":"datum.p=='c' && datum.k!='tag'"}],"mark":{"type":"text","font":"Liberation Sans"},"encoding":{"text":{"field":"t"},"size":{"field":"k","type":"nominal","scale":{"domain":["note","title"],"range":[7,6.4]},"legend":null}}},
  {"data":{"name":"texts"},"transform":[{"filter":"datum.p=='c' && datum.k=='tag'"}],"mark":{"type":"text","font":"Liberation Serif","fontSize":15},"encoding":{"text":{"field":"t"}}}
 ]},
{"width":137,"height":137,
 "encoding":{"x":{"field":"w","type":"quantitative","scale":{"domain":[195,250],"nice":false,"zero":false},"axis":{"values":[200,210,220,230,240,250],"title":"Wavelength (nm)"}},
  "y":{"field":"v","type":"quantitative","scale":{"domain":[-45,10],"nice":false,"zero":false},"axis":{"values":[-40,-30,-20,-10,0,10],"title":"Raw ellipticity (mdeg)"}},
  "color":{"field":"s","type":"nominal","scale":{"domain":["c","a","T"],"range":["#e0332f","#3838b8","#1a1a1a"]},"legend":null}},
 "layer":[
  {"data":{"name":"curves"},"transform":[{"filter":"datum.p=='d'"}],"mark":{"type":"line","interpolate":"monotone","strokeWidth":1.1,"clip":true},"encoding":{"strokeDash":{"field":"s","type":"nominal","scale":{"domain":["c","a"],"range":[[1,0],[7,2,1.5,2]]},"legend":null}}},
  {"data":{"name":"marks"},"transform":[{"filter":"datum.p=='d'"}],"mark":{"type":"point","filled":false,"size":22,"strokeWidth":1},"encoding":{"shape":{"field":"s","type":"nominal","scale":{"domain":["c","a"],"range":["circle","square"]},"legend":null}}},
  {"data":{"name":"texts"},"transform":[{"filter":"datum.p=='d' && datum.k!='tag'"}],"mark":{"type":"text","font":"Liberation Sans"},"encoding":{"text":{"field":"t"},"size":{"field":"k","type":"nominal","scale":{"domain":["note","title"],"range":[7,6.4]},"legend":null}}},
  {"data":{"name":"texts"},"transform":[{"filter":"datum.p=='d' && datum.k=='tag'"}],"mark":{"type":"text","font":"Liberation Serif","fontSize":15},"encoding":{"text":{"field":"t"}}}
 ]},
{"width":137,"height":137,
 "encoding":{"x":{"field":"w","type":"quantitative","scale":{"domain":[195,250],"nice":false,"zero":false},"axis":{"values":[200,210,220,230,240,250],"title":"Wavelength (nm)"}},
  "y":{"field":"v","type":"quantitative","scale":{"domain":[-30,20],"nice":false,"zero":false},"axis":{"values":[-30,-20,-10,0,10,20],"title":"Raw ellipticity (mdeg)"}},
  "color":{"field":"s","type":"nominal","scale":{"domain":["c","a","T"],"range":["#e0332f","#3838b8","#1a1a1a"]},"legend":null}},
 "layer":[
  {"data":{"name":"curves"},"transform":[{"filter":"datum.p=='e'"}],"mark":{"type":"line","interpolate":"monotone","strokeWidth":1.1,"clip":true},"encoding":{"strokeDash":{"field":"s","type":"nominal","scale":{"domain":["c","a"],"range":[[1,0],[7,2,1.5,2]]},"legend":null}}},
  {"data":{"name":"marks"},"transform":[{"filter":"datum.p=='e'"}],"mark":{"type":"point","filled":false,"size":22,"strokeWidth":1},"encoding":{"shape":{"field":"s","type":"nominal","scale":{"domain":["c","a"],"range":["circle","square"]},"legend":null}}},
  {"data":{"name":"texts"},"transform":[{"filter":"datum.p=='e' && datum.k!='tag'"}],"mark":{"type":"text","font":"Liberation Sans"},"encoding":{"text":{"field":"t"},"size":{"field":"k","type":"nominal","scale":{"domain":["note","title"],"range":[7,6.4]},"legend":null}}},
  {"data":{"name":"texts"},"transform":[{"filter":"datum.p=='e' && datum.k=='tag'"}],"mark":{"type":"text","font":"Liberation Serif","fontSize":15},"encoding":{"text":{"field":"t"}}}
 ]},
{"width":137,"height":137,
 "encoding":{"x":{"field":"w","type":"quantitative","scale":{"domain":[195,250],"nice":false,"zero":false},"axis":{"values":[200,210,220,230,240,250],"title":"Wavelength (nm)"}},
  "y":{"field":"v","type":"quantitative","scale":{"domain":[-20,10],"nice":false,"zero":false},"axis":{"values":[-20,-15,-10,-5,0,5,10],"title":"Raw ellipticity (mdeg)"}},
  "color":{"field":"s","type":"nominal","scale":{"domain":["c","a","T"],"range":["#e0332f","#3838b8","#1a1a1a"]},"legend":null}},
 "layer":[
  {"data":{"name":"curves"},"transform":[{"filter":"datum.p=='f'"}],"mark":{"type":"line","interpolate":"monotone","strokeWidth":1.1,"clip":true},"encoding":{"strokeDash":{"field":"s","type":"nominal","scale":{"domain":["c","a"],"range":[[1,0],[7,2,1.5,2]]},"legend":null}}},
  {"data":{"name":"marks"},"transform":[{"filter":"datum.p=='f'"}],"mark":{"type":"point","filled":false,"size":22,"strokeWidth":1},"encoding":{"shape":{"field":"s","type":"nominal","scale":{"domain":["c","a"],"range":["circle","square"]},"legend":null}}},
  {"data":{"name":"texts"},"transform":[{"filter":"datum.p=='f' && datum.k!='tag'"}],"mark":{"type":"text","font":"Liberation Sans"},"encoding":{"text":{"field":"t"},"size":{"field":"k","type":"nominal","scale":{"domain":["note","title"],"range":[7,6.4]},"legend":null}}},
  {"data":{"name":"texts"},"transform":[{"filter":"datum.p=='f' && datum.k=='tag'"}],"mark":{"type":"text","font":"Liberation Serif","fontSize":15},"encoding":{"text":{"field":"t"}}}
 ]},
{"width":137,"height":137,
 "encoding":{"x":{"field":"w","type":"quantitative","scale":{"domain":[195,250],"nice":false,"zero":false},"axis":{"values":[200,210,220,230,240,250],"title":"Wavelength (nm)"}},
  "y":{"field":"v","type":"quantitative","scale":{"domain":[-35,30],"nice":false,"zero":false},"axis":{"values":[-30,-20,-10,0,10,20,30],"title":"Raw ellipticity (mdeg)"}},
  "color":{"field":"s","type":"nominal","scale":{"domain":["c","a","T"],"range":["#e0332f","#3838b8","#1a1a1a"]},"legend":null}},
 "layer":[
  {"data":{"name":"curves"},"transform":[{"filter":"datum.p=='g'"}],"mark":{"type":"line","interpolate":"monotone","strokeWidth":1.1,"clip":true},"encoding":{"strokeDash":{"field":"s","type":"nominal","scale":{"domain":["c","a"],"range":[[1,0],[7,2,1.5,2]]},"legend":null}}},
  {"data":{"name":"marks"},"transform":[{"filter":"datum.p=='g'"}],"mark":{"type":"point","filled":false,"size":22,"strokeWidth":1},"encoding":{"shape":{"field":"s","type":"nominal","scale":{"domain":["c","a"],"range":["circle","square"]},"legend":null}}},
  {"data":{"name":"texts"},"transform":[{"filter":"datum.p=='g' && datum.k!='tag'"}],"mark":{"type":"text","font":"Liberation Sans"},"encoding":{"text":{"field":"t"},"size":{"field":"k","type":"nominal","scale":{"domain":["note","title"],"range":[7,6.4]},"legend":null}}},
  {"data":{"name":"texts"},"transform":[{"filter":"datum.p=='g' && datum.k=='tag'"}],"mark":{"type":"text","font":"Liberation Serif","fontSize":15},"encoding":{"text":{"field":"t"}}}
 ]},
{"width":137,"height":137,
 "encoding":{"x":{"field":"w","type":"quantitative","scale":{"domain":[195,250],"nice":false,"zero":false},"axis":{"values":[200,210,220,230,240,250],"title":"Wavelength (nm)"}},
  "y":{"field":"v","type":"quantitative","scale":{"domain":[-30,20],"nice":false,"zero":false},"axis":{"values":[-30,-20,-10,0,10,20],"title":"Raw ellipticity (mdeg)"}},
  "color":{"field":"s","type":"nominal","scale":{"domain":["c","a","T"],"range":["#e0332f","#3838b8","#1a1a1a"]},"legend":null}},
 "layer":[
  {"data":{"name":"curves"},"transform":[{"filter":"datum.p=='h'"}],"mark":{"type":"line","interpolate":"monotone","strokeWidth":1.1,"clip":true},"encoding":{"strokeDash":{"field":"s","type":"nominal","scale":{"domain":["c","a"],"range":[[1,0],[7,2,1.5,2]]},"legend":null}}},
  {"data":{"name":"marks"},"transform":[{"filter":"datum.p=='h'"}],"mark":{"type":"point","filled":false,"size":22,"strokeWidth":1},"encoding":{"shape":{"field":"s","type":"nominal","scale":{"domain":["c","a"],"range":["circle","square"]},"legend":null}}},
  {"data":{"name":"texts"},"transform":[{"filter":"datum.p=='h' && datum.k!='tag'"}],"mark":{"type":"text","font":"Liberation Sans"},"encoding":{"text":{"field":"t"},"size":{"field":"k","type":"nominal","scale":{"domain":["note","title"],"range":[7,6.4]},"legend":null}}},
  {"data":{"name":"texts"},"transform":[{"filter":"datum.p=='h' && datum.k=='tag'"}],"mark":{"type":"text","font":"Liberation Serif","fontSize":15},"encoding":{"text":{"field":"t"}}}
 ]}
],
"config":{
 "view":{"stroke":"#555","strokeWidth":1},
 "axis":{"grid":false,"domain":false,"ticks":true,"tickColor":"#555","tickSize":-3,"labelFont":"Liberation Sans","labelFontSize":7.5,"labelColor":"#222","titleFont":"Liberation Sans","titleFontSize":7.2,"titleFontWeight":"normal","titleColor":"#222"},
 "axisY":{"labelPadding":4,"minExtent":16,"maxExtent":16,"titlePadding":4},
 "axisX":{"labelPadding":2,"titlePadding":5},
 "text":{"align":"center","baseline":"middle"}
}
}
